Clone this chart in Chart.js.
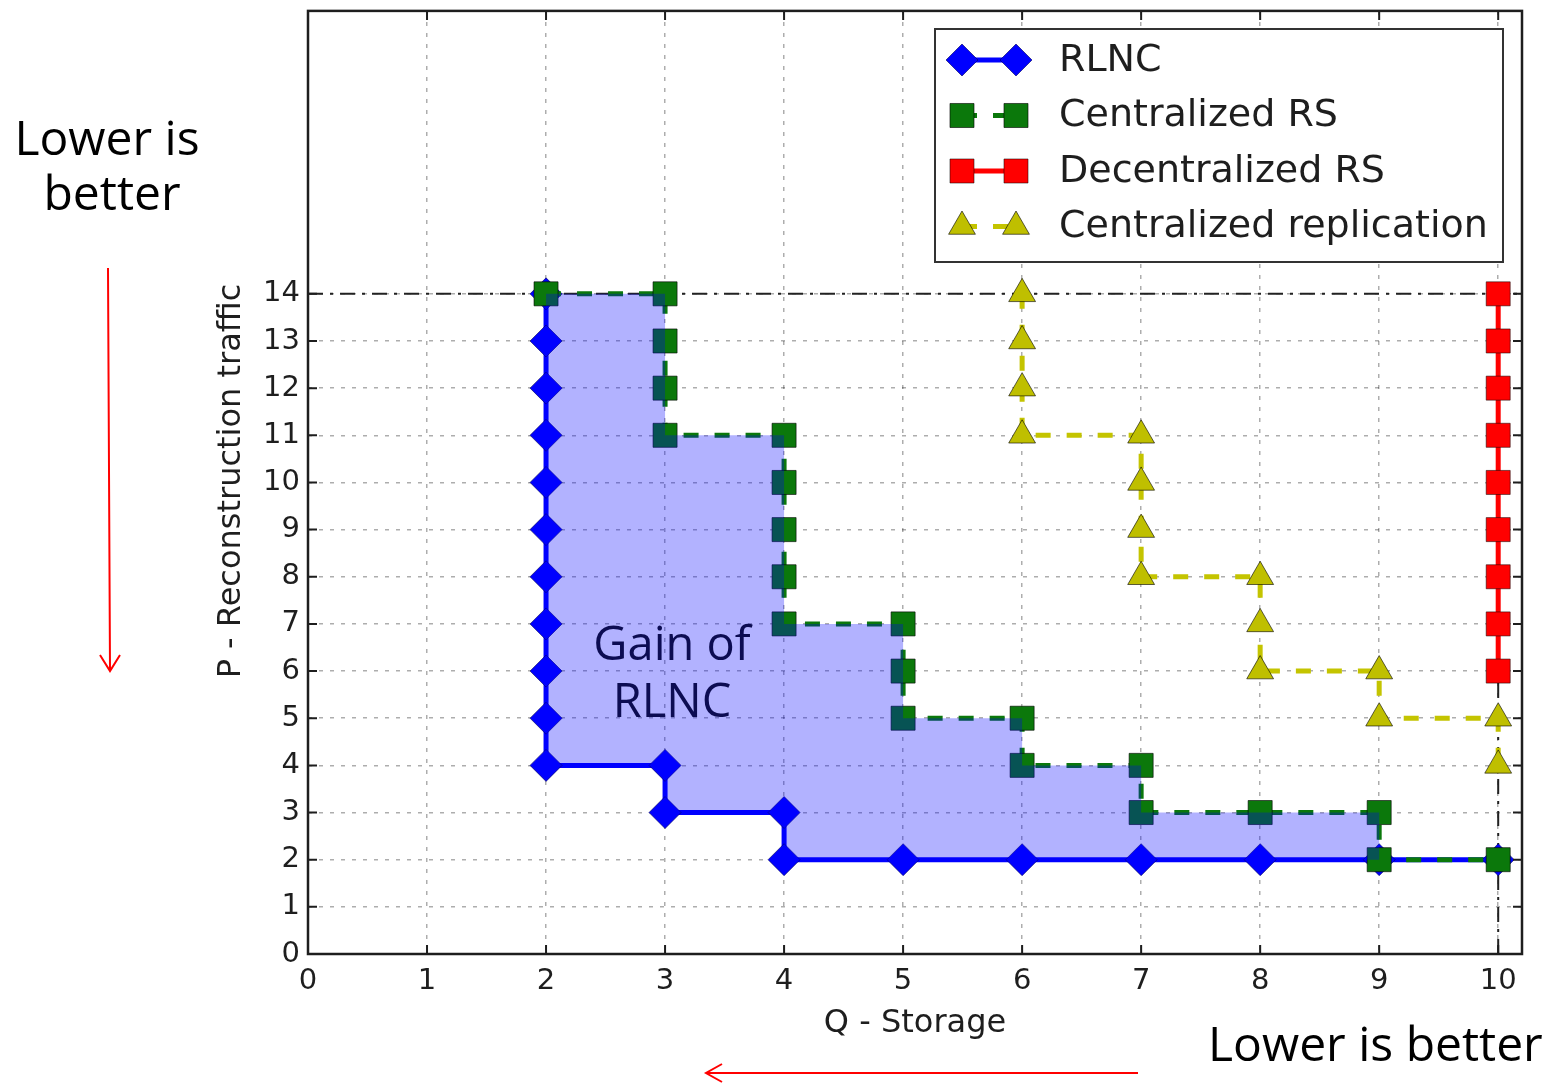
<!doctype html>
<html lang="en">

<head>
  <meta charset="utf-8">
  <title>Storage vs reconstruction traffic</title>
  <style>
    * {
      margin: 0;
      padding: 0;
    }

    body {
      background: white;
    }

    .chartBox {
      width: 1547px;
      height: 1087px;
    }
  </style>
</head>

<body>
  <div class="chartBox">
    <canvas id="myChart"></canvas>
  </div>
  <script src="https://cdn.jsdelivr.net/npm/chart.js/dist/chart.umd.min.js"></script>
  <script>
    // setup
    const xTicks = [0, 1, 2, 3, 4, 5, 6, 7, 8, 9, 10];
    const yTicks = [0, 1, 2, 3, 4, 5, 6, 7, 8, 9, 10, 11, 12, 13, 14];

    const rlncQ = [2, 2, 2, 2, 2, 2, 2, 2, 2, 2, 2, 3, 3, 4, 4, 5, 6, 7, 8, 9, 10];
    const rlncP = [14, 13, 12, 11, 10, 9, 8, 7, 6, 5, 4, 4, 3, 3, 2, 2, 2, 2, 2, 2, 2];

    const crsQ = [2, 3, 3, 3, 3, 4, 4, 4, 4, 4, 5, 5, 5, 6, 6, 7, 7, 8, 9, 9, 10];
    const crsP = [14, 14, 13, 12, 11, 11, 10, 9, 8, 7, 7, 6, 5, 5, 4, 4, 3, 3, 3, 2, 2];

    const drsQ = [10, 10, 10, 10, 10, 10, 10, 10, 10];
    const drsP = [14, 13, 12, 11, 10, 9, 8, 7, 6];

    const crepQ = [6, 6, 6, 6, 7, 7, 7, 7, 8, 8, 8, 9, 9, 10, 10];
    const crepP = [14, 13, 12, 11, 11, 10, 9, 8, 8, 7, 6, 6, 5, 5, 4];

    const maxP = 14;   // dash-dot limit lines
    const maxQ = 10;

    const pts = (xs, ys) => xs.map((x, i) => ({ x: x, y: ys[i] }));

    const inkColor = '#1e1e1e';

    const data = {
      datasets: [{
        label: 'RLNC',
        data: pts(rlncQ, rlncP),
        borderColor: '#0000ff',
        borderWidth: 5,
        pointStyle: 'rectRot',
        pointRadius: 16,
        pointBackgroundColor: '#0000ff',
        pointBorderColor: 'rgba(0,0,90,0.6)',
        pointBorderWidth: 1,
        order: 4
      }, {
        label: 'Centralized RS',
        data: pts(crsQ, crsP),
        borderColor: '#0b780b',
        borderWidth: 5,
        borderDash: [15, 16],
        pointStyle: 'rect',
        pointRadius: 17,
        pointBackgroundColor: '#0b780b',
        pointBorderColor: 'rgba(0,0,0,0.6)',
        pointBorderWidth: 1,
        order: 3
      }, {
        label: 'Decentralized RS',
        data: pts(drsQ, drsP),
        borderColor: '#ff0000',
        borderWidth: 5,
        pointStyle: 'rect',
        pointRadius: 17,
        pointBackgroundColor: '#ff0000',
        pointBorderColor: 'rgba(0,0,0,0.5)',
        pointBorderWidth: 1,
        order: 2
      }, {
        label: 'Centralized replication',
        data: pts(crepQ, crepP),
        borderColor: '#c4c400',
        borderWidth: 5,
        borderDash: [15, 16],
        pointStyle: 'triangle',
        pointRadius: 15.5,
        pointBackgroundColor: '#bfbf00',
        pointBorderColor: 'rgba(0,0,0,0.6)',
        pointBorderWidth: 1,
        order: 1
      }]
    };

    // dash-dot limit lines, drawn under the series
    const limitLines = {
      id: 'limitLines',
      beforeDatasetsDraw(chart) {
        const { ctx, chartArea, scales: { x, y } } = chart;
        ctx.save();
        ctx.strokeStyle = '#222';
        ctx.lineWidth = 2;
        ctx.setLineDash([15, 7, 3, 7]);
        ctx.beginPath();
        ctx.moveTo(chartArea.left, y.getPixelForValue(maxP));
        ctx.lineTo(chartArea.right, y.getPixelForValue(maxP));
        ctx.moveTo(x.getPixelForValue(maxQ), chartArea.bottom);
        ctx.lineTo(x.getPixelForValue(maxQ), y.getPixelForValue(maxP));
        ctx.stroke();
        ctx.restore();
      }
    };

    // shaded area between RLNC and Centralized RS, plus its label
    const gainArea = {
      id: 'gainArea',
      afterDatasetsDraw(chart) {
        const { ctx, scales: { x, y } } = chart;
        ctx.save();
        ctx.fillStyle = 'rgba(0,0,255,0.3)';
        ctx.beginPath();
        rlncQ.forEach((q, i) => {
          const px = x.getPixelForValue(q), py = y.getPixelForValue(rlncP[i]);
          if (i === 0) ctx.moveTo(px, py); else ctx.lineTo(px, py);
        });
        for (let i = crsQ.length - 1; i >= 0; i--) {
          ctx.lineTo(x.getPixelForValue(crsQ[i]), y.getPixelForValue(crsP[i]));
        }
        ctx.closePath();
        ctx.fill();

        ctx.fillStyle = '#0c0c52';
        ctx.font = '47px "Open Sans"';
        ctx.textAlign = 'center';
        ctx.textBaseline = 'alphabetic';
        ctx.fillText('Gain of', 672, 660);
        ctx.fillText('RLNC', 672, 717);
        ctx.restore();
      }
    };

    // frame, inward ticks, axis titles, legend and side notes
    const decorations = {
      id: 'decorations',
      afterDraw(chart) {
        const { ctx, chartArea: a, scales: { x, y } } = chart;
        ctx.save();

        // inward tick marks on all four sides
        ctx.strokeStyle = inkColor;
        ctx.lineWidth = 2;
        ctx.beginPath();
        xTicks.forEach(v => {
          const px = x.getPixelForValue(v);
          ctx.moveTo(px, a.bottom); ctx.lineTo(px, a.bottom - 9);
          ctx.moveTo(px, a.top); ctx.lineTo(px, a.top + 9);
        });
        yTicks.forEach(v => {
          const py = y.getPixelForValue(v);
          ctx.moveTo(a.left, py); ctx.lineTo(a.left + 9, py);
          ctx.moveTo(a.right, py); ctx.lineTo(a.right - 9, py);
        });
        ctx.stroke();

        // plot frame
        ctx.lineWidth = 2.5;
        ctx.strokeRect(a.left, a.top, a.right - a.left, a.bottom - a.top);

        // axis titles
        ctx.fillStyle = inkColor;
        ctx.font = '32px "DejaVu Sans"';
        ctx.textAlign = 'center';
        ctx.textBaseline = 'middle';
        ctx.fillText('Q - Storage', (a.left + a.right) / 2, 1024);
        ctx.save();
        ctx.translate(232, 481);
        ctx.rotate(-Math.PI / 2);
        ctx.fillText('P - Reconstruction traffic', 0, 0);
        ctx.restore();

        // legend
        const lx = 935, ly = 29, lw = 568, lh = 233;
        ctx.fillStyle = 'white';
        ctx.fillRect(lx, ly, lw, lh);
        ctx.strokeStyle = '#333';
        ctx.lineWidth = 2;
        ctx.strokeRect(lx, ly, lw, lh);

        chart.data.datasets.forEach((ds, i) => {
          const cy = 60 + i * 55.5;
          ctx.save();
          ctx.strokeStyle = ds.borderColor;
          ctx.lineWidth = ds.borderWidth;
          ctx.setLineDash(ds.borderDash || []);
          ctx.beginPath();
          ctx.moveTo(962, cy);
          ctx.lineTo(1016, cy);
          ctx.stroke();
          ctx.setLineDash([]);
          ctx.fillStyle = ds.pointBackgroundColor;
          ctx.strokeStyle = ds.pointBorderColor;
          ctx.lineWidth = ds.pointBorderWidth;
          [962, 1016].forEach(mx => {
            Chart.helpers.drawPoint(ctx, {
              pointStyle: ds.pointStyle, radius: ds.pointRadius, rotation: 0, borderWidth: ds.pointBorderWidth
            }, mx, cy);
          });
          ctx.restore();

          ctx.fillStyle = inkColor;
          ctx.font = '38px "DejaVu Sans"';
          ctx.textAlign = 'left';
          ctx.textBaseline = 'middle';
          ctx.fillText(ds.label, 1059, cy + 1);
        });

        // "lower is better" notes with red arrows
        ctx.fillStyle = 'black';
        ctx.font = '48px "Open Sans"';
        ctx.textAlign = 'center';
        ctx.textBaseline = 'alphabetic';
        ctx.fillText('Lower is', 107, 155);
        ctx.fillText('better', 112, 210);
        ctx.textAlign = 'left';
        ctx.fillText('Lower is better', 1208, 1061);

        ctx.strokeStyle = '#ff0000';
        ctx.lineWidth = 2;
        ctx.beginPath();
        ctx.moveTo(108, 268); ctx.lineTo(110, 671);
        ctx.moveTo(100, 655); ctx.lineTo(110, 671); ctx.lineTo(120, 655);
        ctx.moveTo(1138, 1073); ctx.lineTo(706, 1073);
        ctx.moveTo(722, 1064); ctx.lineTo(706, 1073); ctx.lineTo(722, 1082);
        ctx.stroke();

        ctx.restore();
      }
    };

    // config
    const config = {
      type: 'scatter',
      data,
      options: {
        responsive: true,
        maintainAspectRatio: false,
        animation: false,
        showLine: true,
        layout: { autoPadding: false, padding: { left: 0, top: 6, right: 25, bottom: 0 } },
        plugins: {
          legend: { display: false },
          tooltip: { enabled: false }
        },
        scales: {
          x: {
            type: 'linear',
            min: 0,
            max: 10.2,
            afterBuildTicks: axis => { axis.ticks = xTicks.map(v => ({ value: v })); },
            afterFit: axis => { axis.height = 133; },
            ticks: { font: { family: 'DejaVu Sans', size: 29 }, color: inkColor, padding: 10, maxRotation: 0 },
            grid: { color: 'rgba(0,0,0,0.32)', lineWidth: 1.5, drawTicks: false },
            border: { display: false, dash: [4, 7] }
          },
          y: {
            type: 'linear',
            min: 0,
            max: 20,
            afterBuildTicks: axis => { axis.ticks = yTicks.map(v => ({ value: v })); },
            afterFit: axis => { axis.width = 308; },
            // small lineHeight keeps the top label from pushing the plot down
            ticks: { font: { family: 'DejaVu Sans', size: 29, lineHeight: 0.2 }, color: inkColor, padding: 8 },
            grid: { color: 'rgba(0,0,0,0.32)', lineWidth: 1.5, drawTicks: false },
            border: { display: false, dash: [4, 7] }
          }
        }
      },
      plugins: [limitLines, gainArea, decorations]
    };

    // render init block
    const myChart = new Chart(
      document.getElementById('myChart'),
      config
    );
  </script>

</body>

</html>
